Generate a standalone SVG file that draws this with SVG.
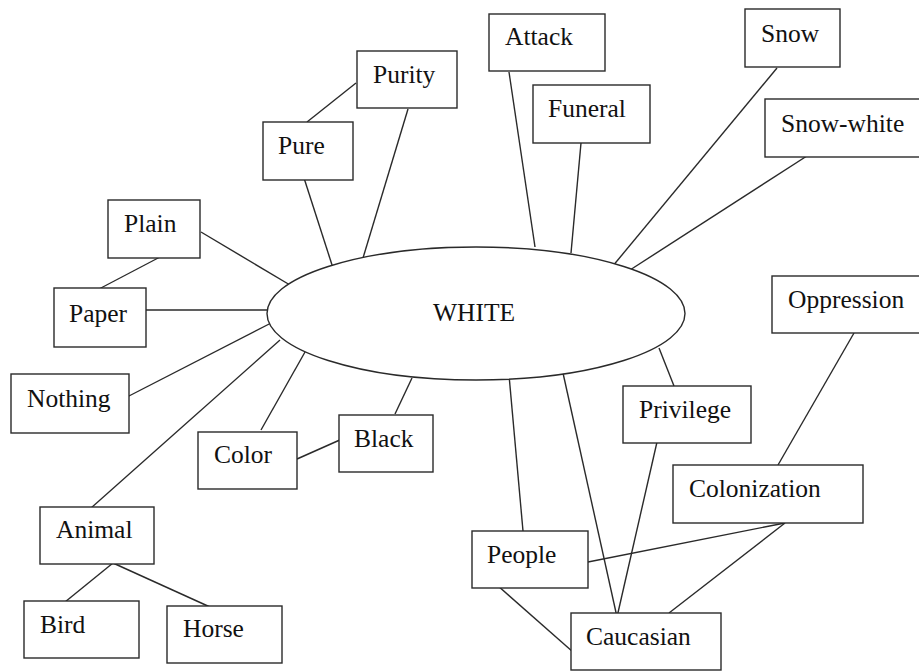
<svg xmlns="http://www.w3.org/2000/svg" width="919" height="671" viewBox="0 0 919 671">
<style>
.box{fill:#fff;stroke:#2a2a2a;stroke-width:1.4}
.lbl{font-family:"Liberation Serif","Times New Roman",serif;font-size:25.5px;fill:#111}
.c line{stroke:#2a2a2a;stroke-width:1.4}
</style>
<rect width="919" height="671" fill="#fff"/>
<g id="connectors" class="c">
<line x1="356" y1="83" x2="307" y2="122"/>
<line x1="408" y1="109" x2="363" y2="258"/>
<line x1="304" y1="178" x2="333" y2="268"/>
<line x1="201" y1="232" x2="290" y2="285"/>
<line x1="160" y1="257" x2="99" y2="289"/>
<line x1="146" y1="310" x2="269" y2="310"/>
<line x1="127" y1="397" x2="275" y2="321"/>
<line x1="91" y1="508" x2="280" y2="340"/>
<line x1="261" y1="430" x2="305" y2="352"/>
<line x1="395" y1="414" x2="412" y2="378"/>
<line x1="297" y1="459" x2="342" y2="439"/>
<line x1="113" y1="563" x2="65" y2="602"/>
<line x1="113" y1="563" x2="210" y2="607"/>
<line x1="509" y1="72" x2="535" y2="247"/>
<line x1="581" y1="143" x2="571" y2="253"/>
<line x1="777" y1="68" x2="612" y2="267"/>
<line x1="810" y1="154" x2="630" y2="270"/>
<line x1="854" y1="333" x2="778" y2="465"/>
<line x1="659" y1="348" x2="674" y2="386"/>
<line x1="509" y1="375" x2="523" y2="531"/>
<line x1="563" y1="373" x2="617" y2="617"/>
<line x1="657" y1="442" x2="617" y2="617"/>
<line x1="785" y1="523" x2="588" y2="562"/>
<line x1="785" y1="523" x2="669" y2="613"/>
<line x1="497" y1="585" x2="573" y2="652"/>
</g>
<g id="white"><ellipse cx="476" cy="313.5" rx="209" ry="66.5" class="box"/><text x="474" y="321" class="lbl" text-anchor="middle">WHITE</text></g>
<g id="purity"><rect x="357" y="51" width="100" height="57" class="box"/><text x="373" y="83" class="lbl">Purity</text></g>
<g id="pure"><rect x="263" y="122" width="90" height="58" class="box"/><text x="278" y="154" class="lbl">Pure</text></g>
<g id="plain"><rect x="108" y="200" width="92" height="58" class="box"/><text x="124" y="232" class="lbl">Plain</text></g>
<g id="paper"><rect x="54" y="288" width="92" height="59" class="box"/><text x="69" y="322" class="lbl">Paper</text></g>
<g id="nothing"><rect x="11" y="374" width="118" height="59" class="box"/><text x="27" y="407" class="lbl">Nothing</text></g>
<g id="color"><rect x="198" y="432" width="99" height="57" class="box"/><text x="214" y="463" class="lbl">Color</text></g>
<g id="black"><rect x="339" y="415" width="94" height="57" class="box"/><text x="354" y="447" class="lbl">Black</text></g>
<g id="animal"><rect x="40" y="507" width="114" height="57" class="box"/><text x="56" y="538" class="lbl">Animal</text></g>
<g id="bird"><rect x="24" y="601" width="115" height="57" class="box"/><text x="40" y="633" class="lbl">Bird</text></g>
<g id="horse"><rect x="167" y="606" width="115" height="57" class="box"/><text x="183" y="637" class="lbl">Horse</text></g>
<g id="attack"><rect x="489" y="14" width="116" height="57" class="box"/><text x="505" y="45" class="lbl">Attack</text></g>
<g id="funeral"><rect x="533" y="85" width="117" height="58" class="box"/><text x="548" y="117" class="lbl">Funeral</text></g>
<g id="snow"><rect x="745" y="9" width="95" height="58" class="box"/><text x="761" y="42" class="lbl">Snow</text></g>
<g id="snow-white"><rect x="765" y="99" width="160" height="58" class="box"/><text x="781" y="132" class="lbl">Snow-white</text></g>
<g id="oppression"><rect x="772" y="276" width="155" height="57" class="box"/><text x="788" y="308" class="lbl">Oppression</text></g>
<g id="privilege"><rect x="623" y="386" width="128" height="57" class="box"/><text x="639" y="418" class="lbl">Privilege</text></g>
<g id="colonization"><rect x="673" y="465" width="190" height="58" class="box"/><text x="689" y="497" class="lbl">Colonization</text></g>
<g id="people"><rect x="472" y="531" width="116" height="57" class="box"/><text x="487" y="563" class="lbl">People</text></g>
<g id="caucasian"><rect x="571" y="613" width="150" height="57" class="box"/><text x="586" y="645" class="lbl">Caucasian</text></g>
</svg>
